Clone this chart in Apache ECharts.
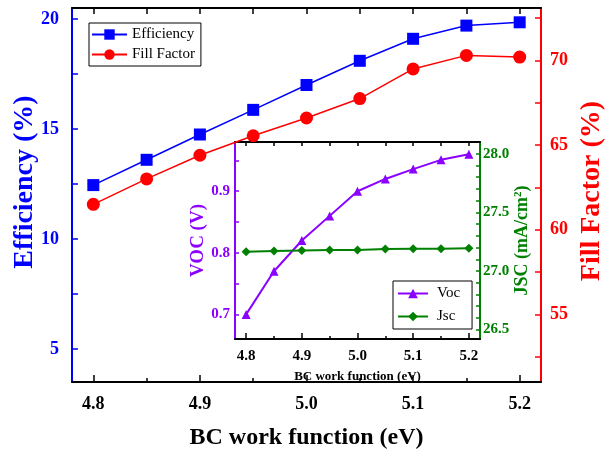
<!DOCTYPE html>
<html>
<head>
<meta charset="utf-8">
<script src="https://cdn.jsdelivr.net/npm/echarts@6/dist/echarts.min.js"></script>
<style>
html,body{margin:0;padding:0;background:#fff;}
#chart{width:609px;height:455px;}
</style>
</head>
<body>
<div id="chart"></div>
<script>
// ---- data ----
const bcWork = [4.8, 4.85, 4.9, 4.95, 5.0, 5.05, 5.1, 5.15, 5.2];
const efficiency = [12.45, 13.6, 14.75, 15.87, 17.0, 18.1, 19.1, 19.7, 19.85];
const fillFactor = [61.5, 63.0, 64.4, 65.55, 66.6, 67.75, 69.5, 70.3, 70.2];
const voc = [0.700, 0.770, 0.820, 0.860, 0.900, 0.920, 0.936, 0.951, 0.960];
const jsc = [27.165, 27.17, 27.175, 27.178, 27.18, 27.187, 27.19, 27.19, 27.193];

// ---- tick labels ----
const xMajor = [4.8, 4.9, 5.0, 5.1, 5.2];
const xMinor = [4.85, 4.95, 5.05, 5.15];
const effLabels = [5, 10, 15, 20];
const effTicks = [5, 7.5, 10, 12.5, 15, 17.5, 20];
const ffLabels = [55, 60, 65, 70];
const ffTicks = [52.5, 55, 57.5, 60, 62.5, 65, 67.5, 70, 72.5];
const vocLabels = [0.7, 0.8, 0.9];
const vocTicks = [0.7, 0.75, 0.8, 0.85, 0.9, 0.95];
const jscLabels = [26.5, 27.0, 27.5, 28.0];
const jscTicks = [26.5, 26.6, 26.7, 26.8, 26.9, 27.0, 27.1, 27.2, 27.3, 27.4, 27.5, 27.6, 27.7, 27.8, 27.9, 28.0];

const FONT = '"Liberation Serif", "Times New Roman", serif';
const BLUE = '#0000ff', RED = '#ff0000', PURPLE = '#8b00ff', GREEN = '#008000';

const pairs = (xs, ys) => xs.map((x, i) => [x, ys[i]]);

function xAx(grid, pos, ticks, len, opts) {
  return Object.assign({
    type: 'value', gridIndex: grid, position: pos, min: 4.78, max: 5.22,
    splitLine: {show: false},
    axisLine: {show: true, onZero: false, lineStyle: {color: '#000', width: 2}},
    axisTick: {show: true, inside: true, length: len, customValues: ticks, lineStyle: {color: '#000', width: 1.5}},
    axisLabel: {show: false}
  }, opts || {});
}

const chart = echarts.init(document.getElementById('chart'), null, {renderer: 'canvas'});
const option = {
  backgroundColor: '#fff',
  animation: false,
  grid: [
    {left: 72, top: 8, width: 469, height: 379},
    {left: 235, top: 142, width: 245, height: 197, show: true, backgroundColor: '#fff', borderWidth: 0}
  ],
  graphic: [
    {type: 'text', x: 25, y: 182, rotation: Math.PI / 2,
      style: {text: 'Efficiency (%)', fill: BLUE, font: 'bold 28px ' + FONT, align: 'center', verticalAlign: 'middle'}},
    {type: 'text', x: 592, y: 191, rotation: Math.PI / 2,
      style: {text: 'Fill Factor (%)', fill: RED, font: 'bold 28px ' + FONT, align: 'center', verticalAlign: 'middle'}}
  ],
  legend: [
    {
      data: ['Efficiency', 'Fill Factor'], orient: 'vertical', left: 89, top: 23,
      itemWidth: 35, itemHeight: 13, itemGap: 5, padding: [4, 6, 4, 2],
      borderColor: '#000', borderWidth: 1, borderRadius: 0,
      textStyle: {fontFamily: FONT, fontSize: 15, color: '#000'}
    },
    {
      data: ['Voc', 'Jsc'], orient: 'vertical', left: 393, top: 281,
      itemWidth: 30, itemHeight: 12, itemGap: 8, padding: [5, 12, 5, 4],
      borderColor: '#000', borderWidth: 1, borderRadius: 0,
      textStyle: {fontFamily: FONT, fontSize: 15, color: '#000', padding: [0, 0, 0, 4]}
    }
  ],
  xAxis: [
    xAx(0, 'bottom', xMajor, 7, {
      axisLabel: {show: true, customValues: xMajor, formatter: v => v.toFixed(1), margin: 13,
        fontFamily: FONT, fontSize: 18, fontWeight: 'bold', color: '#000'},
      name: 'BC work function (eV)', nameLocation: 'middle', nameGap: 44,
      nameTextStyle: {fontFamily: FONT, fontSize: 24, fontWeight: 'bold', color: '#000'}
    }),
    xAx(0, 'bottom', xMinor, 4, {axisLine: {show: false}}),
    xAx(0, 'top', xMajor.concat(xMinor), 6),
    xAx(1, 'bottom', xMajor, 6, {
      axisLabel: {show: true, customValues: xMajor, formatter: v => v.toFixed(1), margin: 10,
        fontFamily: FONT, fontSize: 15, fontWeight: 'bold', color: '#000'},
      name: 'BC work function (eV)', nameLocation: 'middle', nameGap: 31,
      nameTextStyle: {fontFamily: FONT, fontSize: 13, fontWeight: 'bold', color: '#000'}
    }),
    xAx(1, 'bottom', xMinor, 3, {axisLine: {show: false}}),
    xAx(1, 'top', xMajor.concat(xMinor), 4)
  ],
  yAxis: [
    {
      type: 'value', gridIndex: 0, position: 'left', min: 3.5, max: 20.5,
      splitLine: {show: false},
      axisLine: {show: true, onZero: false, lineStyle: {color: BLUE, width: 2}},
      axisTick: {show: true, inside: true, length: 6, customValues: effTicks, lineStyle: {color: BLUE, width: 1.5}},
      axisLabel: {customValues: effLabels, margin: 13, fontFamily: FONT, fontSize: 18, fontWeight: 'bold', color: BLUE}
    },
    {
      type: 'value', gridIndex: 0, position: 'right', min: 51, max: 73.1,
      splitLine: {show: false},
      axisLine: {show: true, onZero: false, lineStyle: {color: RED, width: 2}},
      axisTick: {show: true, inside: true, length: 6, customValues: ffTicks, lineStyle: {color: RED, width: 1.5}},
      axisLabel: {customValues: ffLabels, margin: 9, fontFamily: FONT, fontSize: 18, fontWeight: 'bold', color: RED}
    },
    {
      type: 'value', gridIndex: 1, position: 'left', min: 0.66, max: 0.98,
      splitLine: {show: false},
      axisLine: {show: true, onZero: false, lineStyle: {color: PURPLE, width: 2}},
      axisTick: {show: true, inside: true, length: 4, customValues: vocTicks, lineStyle: {color: PURPLE, width: 1.5}},
      axisLabel: {customValues: vocLabels, formatter: v => v.toFixed(1), margin: 5,
        fontFamily: FONT, fontSize: 15, fontWeight: 'bold', color: PURPLE},
      name: 'VOC (V)', nameLocation: 'middle', nameGap: 23, nameRotate: 90,
      nameTextStyle: {fontFamily: FONT, fontSize: 19, fontWeight: 'bold', color: PURPLE}
    },
    {
      type: 'value', gridIndex: 1, position: 'right', min: 26.42, max: 28.1,
      splitLine: {show: false},
      axisLine: {show: true, onZero: false, lineStyle: {color: GREEN, width: 2}},
      axisTick: {show: true, inside: true, length: 4, customValues: jscTicks, lineStyle: {color: GREEN, width: 1.5}},
      axisLabel: {customValues: jscLabels, formatter: v => v.toFixed(1), margin: 3,
        fontFamily: FONT, fontSize: 15, fontWeight: 'bold', color: GREEN},
      name: 'JSC (mA/cm{sup|2})', nameLocation: 'middle', nameGap: 31, nameRotate: 90,
      nameTextStyle: {fontFamily: FONT, fontSize: 18, fontWeight: 'bold', color: GREEN,
        rich: {sup: {fontFamily: FONT, fontSize: 11, fontWeight: 'bold', color: GREEN, verticalAlign: 'top', padding: [0, 0, 7, 0]}}}
    }
  ],
  series: [
    {
      name: 'Efficiency', type: 'line', xAxisIndex: 0, yAxisIndex: 0,
      data: pairs(bcWork, efficiency), symbol: 'rect', symbolSize: 12,
      itemStyle: {color: BLUE}, lineStyle: {color: BLUE, width: 1.5}, z: 5
    },
    {
      name: 'Fill Factor', type: 'line', xAxisIndex: 0, yAxisIndex: 1,
      data: pairs(bcWork, fillFactor), symbol: 'circle', symbolSize: 13,
      itemStyle: {color: RED}, lineStyle: {color: RED, width: 1.5}, z: 5
    },
    {
      name: 'Voc', type: 'line', xAxisIndex: 3, yAxisIndex: 2,
      data: pairs(bcWork, voc), symbol: 'triangle', symbolSize: 9,
      itemStyle: {color: PURPLE}, lineStyle: {color: PURPLE, width: 2}, z: 6
    },
    {
      name: 'Jsc', type: 'line', xAxisIndex: 3, yAxisIndex: 3,
      data: pairs(bcWork, jsc), symbol: 'diamond', symbolSize: 9,
      itemStyle: {color: GREEN}, lineStyle: {color: GREEN, width: 2}, z: 6
    }
  ]
};
chart.setOption(option);
</script>
</body>
</html>
